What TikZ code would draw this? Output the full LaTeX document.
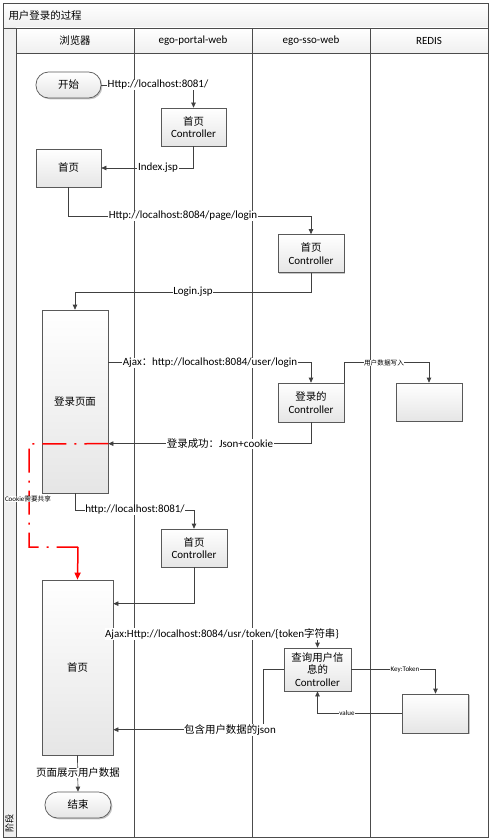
\documentclass[tikz,border=0pt]{standalone}
\usepackage{fontspec}
\setmainfont{Carlito}
\newfontfamily\cjk[Scale=0.95]{Noto Sans CJK SC}
\usetikzlibrary{arrows.meta,shadows,calc}
\begin{document}
\begin{tikzpicture}[x=1pt,y=-1pt,
  frameline/.style={draw=black!70, line width=0.9pt},
  box/.style={draw=black!65, line width=0.7pt, top color=white, bottom color=black!10,
    drop shadow={shadow xshift=1.3pt, shadow yshift=-1.3pt, fill=black!45},
    align=center, inner sep=1pt, font=\fontsize{11}{12.5}\selectfont},
  term/.style={box, rounded corners=12.5pt},
  conn/.style={draw=black!75, line width=0.7pt, -{Triangle[length=5pt,width=4.5pt]}},
  lbl/.style={fill=white, inner sep=0.6pt, font=\fontsize{11}{12.5}\selectfont},
  tiny/.style={fill=white, inner sep=0.3pt, font=\fontsize{7}{8}\selectfont},
  reddash/.style={draw=red, line width=1.5pt, dash pattern=on 24pt off 8pt on 2pt off 8pt},
  redarrow/.style={draw=red, line width=1.5pt, -{Triangle[length=7pt,width=6pt]}},
  hdr/.style={font=\fontsize{11}{12.5}\selectfont}
]
\useasboundingbox (0,0) rectangle (491,840);
% frame
\fill[white] (3,3) rectangle (488,837);
\shade[top color=white, bottom color=black!6] (3,3) rectangle (488,28);
\fill[black!6] (3,28) rectangle (16,837);
\shade[top color=white, bottom color=black!6] (16,28) rectangle (488,53);
\draw[frameline] (3,3) rectangle (488,837);
\draw[frameline] (3,28) -- (488,28);
\draw[frameline] (16,28) -- (16,837);
\draw[frameline] (16,53) -- (488,53);
\foreach \xx in {134,252,370} \draw[frameline] (\xx,28) -- (\xx,837);
\node[anchor=west, font=\cjk\fontsize{11}{12.5}\selectfont] (title) at (5,15.5) {用户登录的过程};
\node[hdr, font=\cjk\fontsize{11}{12.5}\selectfont] (h1) at (75,40.5) {浏览器};
\node[hdr] (h2) at (193,40.5) {ego-portal-web};
\node[hdr] (h3) at (311,40.5) {ego-sso-web};
\node[hdr] (h4) at (429,40.5) {REDIS};
\node[rotate=90, font=\cjk\fontsize{9.5}{10}\selectfont, inner sep=0pt] (stage) at (9.5,823) {阶段};

% nodes
\node[term, minimum width=65pt, minimum height=26pt] (start) at (68.5,85) {\cjk 开始};
\node[box, minimum width=65pt, minimum height=38pt] (pc1) at (193.5,127) {{\cjk 首页}\\Controller};
\node[box, minimum width=65pt, minimum height=38pt] (home1) at (68.5,168) {\cjk 首页};
\node[box, minimum width=66pt, minimum height=38pt] (sc1) at (311,253.5) {{\cjk 首页}\\Controller};
\node[box, minimum width=66pt, minimum height=183pt] (login) at (75,401.5) {\cjk 登录页面};
\node[box, minimum width=66pt, minimum height=39pt] (lc) at (311,402.5) {{\cjk 登录的}\\Controller};
\node[box, minimum width=66pt, minimum height=38pt] (r1) at (429,402) {};
\node[box, minimum width=66pt, minimum height=38pt] (pc2) at (194,548) {{\cjk 首页}\\Controller};
\node[box, minimum width=71pt, minimum height=175pt] (home2) at (77.5,667.5) {\cjk 首页};
\node[box, minimum width=67pt, minimum height=43pt, inner sep=0pt, text width=64pt] (qc) at (317.5,669.5) {{\cjk 查询用户信\\息的}\\Controller};
\node[box, minimum width=66pt, minimum height=39pt] (r2) at (435.5,713.5) {};
\node[term, minimum width=66pt, minimum height=26pt] (end) at (78,805) {\cjk 结束};

% coordinates
\coordinate (ajaxA) at ([yshift=-53pt]login.north east);
\coordinate (succB) at ([yshift=-134pt]login.north east);
\coordinate (redA) at (29,444);
\coordinate (redB) at (29,547);
\coordinate (redC) at (78,547);
\coordinate (retB) at ([yshift=-24pt]home2.north east);
\coordinate (tokA) at ([yshift=-54pt]home2.north east);
\coordinate (jsonB) at ([yshift=-150pt]home2.north east);

% connectors
\draw[conn] (start.east) -| (pc1.north);
\node[lbl] (l1) at (158,85) {Http://localhost:8081/};
\draw[conn] (pc1.south) |- (home1.east);
\node[lbl] (l2) at (158,168) {Index.jsp};
\draw[conn] (home1.south) -- ++(0,28.5) -| (sc1.north);
\node[lbl] (l3) at (183,216) {Http://localhost:8084/page/login};
\draw[conn] (sc1.south) -- ++(0,19.5) -| (login.north);
\node[lbl] (l4) at (193,292) {Login.jsp};
\draw[conn] (ajaxA) -| (lc.north);
\node[lbl] (l5) at (210,363) {Ajax{\cjk ：}http://localhost:8084/user/login};
\draw[conn] (lc.north east) |- ([yshift=20pt]r1.north) -- (r1.north);
\node[tiny, font=\cjk\fontsize{7}{8}\selectfont] (l6) at (384,363) {用户数据写入};
\draw[conn] (lc.south) |- (succB);
\node[lbl] (l7) at (220,444) {{\cjk 登录成功：}Json+cookie};
\draw[reddash] (succB) -- (redA) -- (redB) -- (redC);
\draw[redarrow] (redC) -- (home2.north);
\node[tiny] (l8) at (28,499) {Cookie{\cjk 需要共享}};
\draw[conn] (login.south) -- ++(0,17) -| (pc2.north);
\node[lbl] (l9) at (135,510) {http://localhost:8081/};
\draw[conn] (pc2.south) |- (retB);
\draw[conn] (tokA) -| (qc.north);
\node[lbl] (l10) at (222,634) {Ajax:Http://localhost:8084/usr/token/\{token{\cjk 字符串}\}};
\draw[conn] (qc.east) -| (r2.north);
\node[tiny] (l11) at (405,669.5) {Key:Token};
\draw[conn] (r2.west) -| (qc.south);
\node[tiny] (l12) at (347,713.5) {value};
\draw[conn] (qc.west) -- ++(-20,0) |- (jsonB);
\node[lbl] (l13) at (230,730) {{\cjk 包含用户数据的}json};
\draw[conn] (home2.south) -- (end.north);
\node[lbl, font=\cjk\fontsize{11}{12.5}\selectfont] (l14) at (78,773) {页面展示用户数据};
\end{tikzpicture}
\end{document}
